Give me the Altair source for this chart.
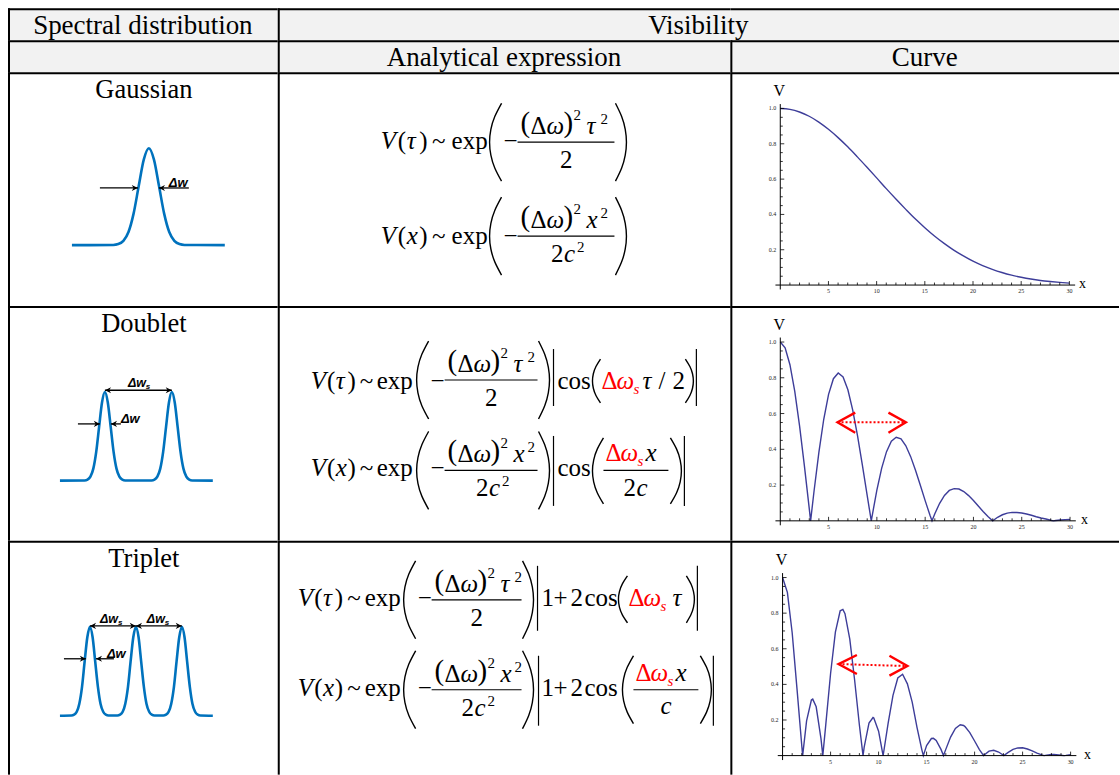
import altair as alt
import pandas as pd

SERIF = "Liberation Serif"
SANS = "Liberation Sans"
RED = "#FF0000"
CURVE_BLUE = "#3D3D99"
SPEC_BLUE = "#0072BD"
HEAD_FILL = "#F2F2F2"

# ---------------------------------------------------------------- table text
HEADER_TOP = ["Spectral distribution", "Visibility"]
HEADER_SUB = ["", "Analytical expression", "Curve"]
SPECTRUM_NAMES = ["Gaussian", "Doublet", "Triplet"]

# ---------------------------------------------------------------- visibility curves V(x)
GAUSS_X = [0, 1, 2, 3, 4, 5, 6, 7, 8, 9, 10, 11, 12, 13, 14, 15, 16, 17, 18, 19, 20,
           21, 22, 23, 24, 25, 26, 27, 28, 29, 30]
GAUSS_V = [1.000, 0.995, 0.980, 0.956, 0.923, 0.882, 0.835, 0.783, 0.726, 0.667, 0.607,
           0.546, 0.487, 0.430, 0.375, 0.325, 0.278, 0.236, 0.198, 0.165, 0.135,
           0.110, 0.089, 0.071, 0.056, 0.044, 0.034, 0.026, 0.020, 0.015, 0.011]

DOUBLET_X = [0, 0.5, 1, 1.5, 2, 2.5, 3, 3.14, 3.5, 4, 4.5, 5, 5.5, 6, 6.5, 7, 7.5, 8, 8.5, 9,
             9.42, 9.5, 10, 10.5, 11, 11.5, 12, 12.5, 13, 13.5, 14, 14.5, 15, 15.5, 15.71,
             16, 16.5, 17, 17.5, 18, 18.5, 19, 19.5, 20, 20.5, 21, 21.5, 21.99, 22.5, 23,
             23.5, 24, 24.5, 25, 25.5, 26, 26.5, 27, 27.5, 28, 28.27, 28.5, 29, 29.5, 30]
DOUBLET_V = [1.000, 0.968, 0.873, 0.724, 0.530, 0.306, 0.068, 0.0, 0.168, 0.384, 0.568,
             0.707, 0.795, 0.827, 0.805, 0.733, 0.619, 0.475, 0.311, 0.141, 0.0, 0.024,
             0.172, 0.295, 0.387, 0.445, 0.467, 0.458, 0.420, 0.359, 0.283, 0.199, 0.113,
             0.031, 0.0, 0.040, 0.098, 0.142, 0.170, 0.180, 0.178, 0.164, 0.141, 0.114,
             0.083, 0.052, 0.024, 0.0, 0.020, 0.034, 0.043, 0.047, 0.047, 0.044, 0.038,
             0.031, 0.023, 0.016, 0.010, 0.003, 0.0, 0.002, 0.005, 0.007, 0.008]

TRIPLET_X = [0, 0.5, 1, 1.5, 2, 2.09, 2.5, 3, 3.14, 3.5, 4, 4.19, 4.5, 5, 5.5, 6, 6.28, 6.5,
             7, 7.5, 8, 8.38, 8.5, 9, 9.42, 9.5, 10, 10.47, 10.5, 11, 11.5, 12, 12.5, 13,
             13.5, 14, 14.5, 14.66, 15, 15.5, 15.71, 16, 16.5, 16.76, 17, 17.5, 18, 18.5,
             18.85, 19, 19.5, 20, 20.5, 20.94, 21, 21.5, 21.99, 22.5, 23, 23.04, 23.5, 24,
             24.5, 25, 25.5, 26, 26.5, 27, 27.23, 27.5, 28, 28.27, 28.5, 29, 29.32, 29.5, 30]
TRIPLET_V = [1.000, 0.917, 0.690, 0.376, 0.055, 0.0, 0.195, 0.312, 0.317, 0.274, 0.095, 0.0,
             0.174, 0.461, 0.693, 0.813, 0.821, 0.797, 0.654, 0.426, 0.172, 0.0, 0.047,
             0.183, 0.214, 0.211, 0.137, 0.0, 0.009, 0.184, 0.338, 0.436, 0.457, 0.403,
             0.300, 0.159, 0.034, 0.0, 0.056, 0.096, 0.097, 0.085, 0.035, 0.0, 0.035,
             0.104, 0.153, 0.173, 0.169, 0.163, 0.129, 0.082, 0.034, 0.0, 0.004, 0.025,
             0.030, 0.020, 0.002, 0.0, 0.018, 0.035, 0.043, 0.044, 0.037, 0.026, 0.014,
             0.004, 0.0, 0.003, 0.006, 0.006, 0.005, 0.002, 0.0, 0.001, 0.005]

# axis ticks and tick labels of the curve panels
X_TICKS = [1, 2, 3, 4, 5, 6, 7, 8, 9, 10, 11, 12, 13, 14, 15, 16, 17, 18, 19, 20,
           21, 22, 23, 24, 25, 26, 27, 28, 29, 30]
X_LABELS = [5, 10, 15, 20, 25, 30]
Y_TICKS = [0.05, 0.1, 0.15, 0.2, 0.25, 0.3, 0.35, 0.4, 0.45, 0.5, 0.55, 0.6, 0.65, 0.7,
           0.75, 0.8, 0.85, 0.9, 0.95, 1.0]
Y_LABELS = [0.2, 0.4, 0.6, 0.8, 1.0]

# ---------------------------------------------------------------- spectral line shapes (frequency, intensity)
GAUSS_W = [6.4, 10.53, 11.04, 11.55, 12.06, 12.57, 13.08, 13.59, 14.1, 14.61, 15.12, 15.63,
           16.14, 16.65, 17.16, 17.67, 21.7]
GAUSS_I = [0, 0.002, 0.011, 0.044, 0.135, 0.325, 0.607, 0.882, 1, 0.882, 0.607, 0.325,
           0.135, 0.044, 0.011, 0.002, 0]

DOUB_W = [5.2, 7.67, 7.96, 8.25, 8.54, 8.83, 9.12, 9.41, 9.7, 9.99, 10.28, 10.57, 10.86,
          11.15, 11.44, 11.73, 14.37, 14.66, 14.95, 15.24, 15.53, 15.82, 16.11, 16.4,
          16.69, 16.98, 17.27, 17.56, 17.85, 18.14, 18.43, 20.5]
DOUB_I = [0, 0.002, 0.011, 0.044, 0.135, 0.325, 0.607, 0.882, 1, 0.882, 0.607, 0.325, 0.135,
          0.044, 0.011, 0.002, 0.002, 0.011, 0.044, 0.135, 0.325, 0.607, 0.882, 1,
          0.882, 0.607, 0.325, 0.135, 0.044, 0.011, 0.002, 0]

TRIP_W = [5.2, 6.35, 6.61, 6.88, 7.14, 7.41, 7.67, 7.94, 8.2, 8.47, 8.73, 9.0, 9.26, 9.53,
          9.79, 10.06, 10.95, 11.21, 11.48, 11.74, 12.01, 12.27, 12.54, 12.8, 13.07, 13.33,
          13.6, 13.86, 14.13, 14.39, 14.66, 15.55, 15.81, 16.08, 16.34, 16.61, 16.87,
          17.14, 17.4, 17.67, 17.93, 18.2, 18.46, 18.73, 18.99, 19.26, 20.5]
TRIP_I = [0, 0.002, 0.011, 0.044, 0.135, 0.325, 0.607, 0.882, 1, 0.882, 0.607, 0.325, 0.135,
          0.044, 0.011, 0.002, 0.002, 0.011, 0.044, 0.135, 0.325, 0.607, 0.882, 1, 0.882,
          0.607, 0.325, 0.135, 0.044, 0.011, 0.002, 0.002, 0.011, 0.044, 0.135, 0.325,
          0.607, 0.882, 1, 0.882, 0.607, 0.325, 0.135, 0.044, 0.011, 0.002, 0]

# ---------------------------------------------------------------- layout
COL_W = [270, 453, 389]
HEAD_H = 32
ROW_H = [234, 235, 234]
FORM_X0 = 277           # page x of the formula column
ROW_Y0 = [71, 305, 540]  # page y of each body row
ARROW_HEAD = "M0,0L-1,-0.5L-0.7,0L-1,0.5Z"
TICK_UP = "M0,0L0,-1"
TICK_RIGHT = "M0,0L1,0"


def borders(w, h, left=True):
    base = alt.Chart(pd.DataFrame({"k": [0]}))
    out = [base.mark_rule(color="black", strokeWidth=2, strokeCap="square").encode(
        x=alt.value(1), x2=alt.value(w - 1), y=alt.value(1))]
    if left:
        out.append(base.mark_rule(color="black", strokeWidth=2, strokeCap="square").encode(
            x=alt.value(1), y=alt.value(1), y2=alt.value(h - 1)))
    return out


def framed(layers, w, h, fill):
    return alt.layer(*layers).properties(
        width=w, height=h, view=alt.ViewBackground(fill=fill, strokeWidth=0))


def text_cell(text, w, h, fill, tx=None, left=True):
    base = alt.Chart(pd.DataFrame({"t": [text]}))
    t = base.mark_text(font=SERIF, fontSize=27, align="center", baseline="alphabetic",
                       color="black").encode(text="t:N", x=alt.value(w / 2 if tx is None else tx),
                                             y=alt.value(h - 6))
    return framed([t] + borders(w, h, left), w, h, fill)


def spectral_cell(name, h, ydom, w_list, i_list, shafts, heads, labels):
    xs = alt.Scale(domain=[0, 27], nice=False, zero=False)
    ys = alt.Scale(domain=ydom, nice=False, zero=False)

    def X(f):
        return alt.X(f, scale=xs, axis=None)

    def Y(f):
        return alt.Y(f, scale=ys, axis=None)

    prof = alt.Chart(pd.DataFrame({"w": w_list, "i": i_list})).mark_line(
        color=SPEC_BLUE, strokeWidth=2.6, interpolate="monotone").encode(x=X("w:Q"), y=Y("i:Q"))
    sh = alt.Chart(pd.DataFrame(shafts, columns=["w", "w2", "i"])).mark_rule(
        color="black", strokeWidth=1.3).encode(x=X("w:Q"), x2="w2:Q", y=Y("i:Q"))
    hd = alt.Chart(pd.DataFrame(heads, columns=["w", "i", "a"])).mark_point(
        shape=ARROW_HEAD, filled=True, size=150, color="black", opacity=1).encode(
        x=X("w:Q"), y=Y("i:Q"), angle=alt.Angle("a:Q", scale=None))
    lb = alt.Chart(pd.DataFrame(labels, columns=["t", "w", "i", "s"])).mark_text(
        font=SANS, fontWeight="bold", fontStyle="italic", align="left",
        baseline="alphabetic", color="black").encode(
        x=X("w:Q"), y=Y("i:Q"), text="t:N", size=alt.Size("s:Q", scale=None))
    ttl = alt.Chart(pd.DataFrame({"t": [name]})).mark_text(
        font=SERIF, fontSize=26.5, align="center", baseline="alphabetic", color="black").encode(
        text="t:N", x=alt.value(136), y=alt.value(26))
    return framed([prof, sh, hd, lb, ttl] + borders(270, h), 270, h, "white")


# ---------------------------------------------------------------- formula typesetting helpers
def lhs(P, x0, xe, base, var):
    L = xe - x0
    P += [("V", x0, base, 25, "i", "black"),
          ("(", x0 + 0.16 * L, base, 25, "r", "black"),
          (var, x0 + 0.245 * L, base, 25, "i", "black"),
          (")", x0 + 0.36 * L, base, 25, "r", "black"),
          ("~", x0 + 0.48 * L, base, 25, "r", "black"),
          ("exp", xe - 36, base, 25, "r", "black")]


def paren(Pa, pid, x_edge, x_mid, y_top, y_bot):
    yc = (y_top + y_bot) / 2
    hh = (y_bot - y_top) / 2
    for k, t in enumerate([-1, -0.66, -0.33, 0, 0.33, 0.66, 1]):
        Pa.append((pid, k, x_mid + (x_edge - x_mid) * t * t, yc + hh * t))


def gfrac(P, R, Pa, tag, p0, pr, axis, base, var, denom):
    P.append(("\u2212", p0 + 14, base, 25, "r", "black"))
    n0, nb = p0 + 31, axis - 8
    P += [("(", n0, nb - 2, 29, "r", "black"),
          ("Δ", n0 + 10, nb, 25, "r", "black"),
          ("ω", n0 + 26, nb, 25, "i", "black"),
          (")", n0 + 43, nb - 2, 29, "r", "black"),
          ("2", n0 + 53, nb - 14, 15, "r", "black"),
          (var, n0 + 66, nb, 25, "i", "black"),
          ("2", n0 + 80, nb - 10, 15, "r", "black")]
    R.append((p0 + 28, pr - 1, axis, axis))
    cx, db = (p0 + 28 + pr - 1) / 2, axis + 26
    if denom == "2":
        P.append(("2", cx - 6, db, 25, "r", "black"))
    else:
        P += [("2", cx - 15, db, 25, "r", "black"),
              ("c", cx - 2, db, 25, "i", "black"),
              ("2", cx + 11, db - 10, 15, "r", "black")]
    paren(Pa, tag + "L", p0 + 12, p0, axis - 39, axis + 39)
    paren(Pa, tag + "R", pr, pr + 11, axis - 39, axis + 39)


def formula_cell(h, top, P, R, Pa):
    xs = alt.Scale(domain=[0, 453], nice=False, zero=False)
    ys = alt.Scale(domain=[0, h], reverse=True, nice=False, zero=False)
    dP = pd.DataFrame(P, columns=["t", "x", "y", "s", "st", "c"])
    dP["x"] = dP["x"] - FORM_X0
    dP["y"] = dP["y"] - top
    dR = pd.DataFrame(R, columns=["x", "x2", "y", "y2"])
    dR[["x", "x2"]] = dR[["x", "x2"]] - FORM_X0
    dR[["y", "y2"]] = dR[["y", "y2"]] - top
    dA = pd.DataFrame(Pa, columns=["id", "o", "x", "y"])
    dA["x"] = dA["x"] - FORM_X0
    dA["y"] = dA["y"] - top

    def enc_text(d, style):
        kw = dict(font=SERIF, align="left", baseline="alphabetic")
        if style == "i":
            kw["fontStyle"] = "italic"
        return alt.Chart(d).mark_text(**kw).encode(
            x=alt.X("x:Q", scale=xs, axis=None), y=alt.Y("y:Q", scale=ys, axis=None),
            text="t:N", size=alt.Size("s:Q", scale=None), color=alt.Color("c:N", scale=None))

    roman = enc_text(dP[dP["st"] == "r"], "r")
    italic = enc_text(dP[dP["st"] == "i"], "i")
    rules = alt.Chart(dR).mark_rule(color="black", strokeWidth=1.2).encode(
        x=alt.X("x:Q", scale=xs, axis=None), x2="x2:Q",
        y=alt.Y("y:Q", scale=ys, axis=None), y2="y2:Q")
    parens = alt.Chart(dA).mark_line(color="black", strokeWidth=1.4, interpolate="natural").encode(
        x=alt.X("x:Q", scale=xs, axis=None), y=alt.Y("y:Q", scale=ys, axis=None),
        detail="id:N", order="o:Q")
    return framed([roman, italic, rules, parens] + borders(453, h), 453, h, "white")


def curve_cell(h, xdom, vdom, x0px, v0px, cx, cv, interp, chev, dotted, xlab_x):
    W = 389
    xs = alt.Scale(domain=xdom, nice=False, zero=False)
    ys = alt.Scale(domain=vdom, nice=False, zero=False)

    def X(f):
        return alt.X(f, scale=xs, axis=None)

    def Y(f):
        return alt.Y(f, scale=ys, axis=None)

    line = alt.Chart(pd.DataFrame({"x": cx, "v": cv})).mark_line(
        color=CURVE_BLUE, strokeWidth=1.4, interpolate=interp).encode(x=X("x:Q"), y=Y("v:Q"))
    axl = alt.Chart(pd.DataFrame({"x": [-0.5, 0], "x2": [30.6, 0],
                                  "v": [0, -0.025], "v2": [0, 1.025]})).mark_rule(
        color="black", strokeWidth=1).encode(x=X("x:Q"), x2="x2:Q", y=Y("v:Q"), y2="v2:Q")
    # tick marks (inward, Mathematica style) and tick labels
    xt = pd.DataFrame({"x": X_TICKS, "v": 0.0})
    xt["s"] = [64 if t in X_LABELS else 25 for t in X_TICKS]
    yt = pd.DataFrame({"x": 0.0, "v": Y_TICKS})
    yt["s"] = [64 if any(abs(t - l) < 1e-6 for l in Y_LABELS) else 25 for t in Y_TICKS]
    xtk = alt.Chart(xt).mark_point(shape=TICK_UP, filled=False, color="black", strokeWidth=0.8,
                                   opacity=1).encode(x=X("x:Q"), y=Y("v:Q"),
                                                     size=alt.Size("s:Q", scale=None))
    ytk = alt.Chart(yt).mark_point(shape=TICK_RIGHT, filled=False, color="black", strokeWidth=0.8,
                                   opacity=1).encode(x=X("x:Q"), y=Y("v:Q"),
                                                     size=alt.Size("s:Q", scale=None))
    xlb = alt.Chart(pd.DataFrame({"x": X_LABELS, "v": 0.0})).mark_text(
        font=SERIF, fontSize=6, baseline="top", align="center", dy=3, color="#222").encode(
        x=X("x:Q"), y=Y("v:Q"), text=alt.Text("x:Q", format="d"))
    ylb = alt.Chart(pd.DataFrame({"x": 0.0, "v": Y_LABELS})).mark_text(
        font=SERIF, fontSize=6, baseline="middle", align="right", dx=-4, color="#222").encode(
        x=X("x:Q"), y=Y("v:Q"), text=alt.Text("v:Q", format=".1f"))
    layers = [line, axl, xtk, ytk, xlb, ylb]
    if chev is not None:
        ch = alt.Chart(pd.DataFrame(chev, columns=["id", "o", "x", "v"])).mark_line(
            color=RED, strokeWidth=2.4, strokeJoin="miter").encode(
            x=X("x:Q"), y=Y("v:Q"), detail="id:N", order="o:Q")
        dt = alt.Chart(pd.DataFrame([dotted], columns=["x", "x2", "v", "v2"])).mark_rule(
            color=RED, strokeWidth=2, strokeDash=[2, 2]).encode(
            x=X("x:Q"), x2="x2:Q", y=Y("v:Q"), y2="v2:Q")
        layers += [dt, ch]
    tv = alt.Chart(pd.DataFrame({"t": ["V"]})).mark_text(
        font=SERIF, fontSize=16, align="center", baseline="alphabetic", color="black").encode(
        text="t:N", x=alt.value(x0px - 1), y=alt.value(24))
    tx = alt.Chart(pd.DataFrame({"t": ["x"]})).mark_text(
        font=SERIF, fontSize=14, align="left", baseline="alphabetic", color="black").encode(
        text="t:N", x=alt.value(xlab_x), y=alt.value(v0px + 3))
    layers += [tv, tx]
    return framed(layers + borders(W, h), W, h, "white")


# ---------------------------------------------------------------- formulas (page coordinates)
# Gaussian
P0, R0, A0 = [], [], []
lhs(P0, 380, 487, 148, "τ")
gfrac(P0, R0, A0, "g1", 489, 615, 141, 148, "τ", "2")
lhs(P0, 380, 487, 243, "x")
gfrac(P0, R0, A0, "g2", 489, 615, 235, 243, "x", "2c2")

# Doublet
P1, R1, A1 = [], [], []
lhs(P1, 310, 412, 388, "τ")
gfrac(P1, R1, A1, "d1", 416, 538, 379, 388, "τ", "2")
R1 += [(553, 553, 348, 405), (696, 696, 348, 405)]
P1 += [("cos", 557, 388, 25, "r", "black"),
       ("Δ", 601, 388, 25, "r", RED), ("ω", 616, 388, 25, "i", RED),
       ("s", 633, 393, 15, "i", RED),
       ("τ", 642, 388, 25, "i", "black"), ("/", 658, 388, 25, "r", "black"),
       ("2", 672, 388, 25, "r", "black")]
paren(A1, "d1a", 600, 592, 358, 402)
paren(A1, "d1b", 685, 693, 358, 402)
lhs(P1, 310, 412, 475, "x")
gfrac(P1, R1, A1, "d2", 416, 538, 469.5, 475, "x", "2c2")
R1 += [(553, 553, 435, 505), (684, 684, 435, 505), (603, 668, 469.5, 469.5)]
P1 += [("cos", 557, 475, 25, "r", "black"),
       ("Δ", 605, 460, 25, "r", RED), ("ω", 620, 460, 25, "i", RED),
       ("s", 637, 465, 15, "i", RED), ("x", 645, 460, 25, "i", "black"),
       ("2", 623, 495, 25, "r", "black"), ("c", 636, 495, 25, "i", "black")]
paren(A1, "d2a", 603, 592, 437, 503)
paren(A1, "d2b", 670, 681, 437, 503)

# Triplet
P2, R2, A2 = [], [], []
lhs(P2, 297, 400, 605, "τ")
gfrac(P2, R2, A2, "t1", 403, 522, 599, 605, "τ", "2")
R2 += [(537, 537, 565, 630), (697, 697, 565, 630)]
P2 += [("1", 541, 605, 25, "r", "black"), ("+", 553, 605, 25, "r", "black"),
       ("2", 570, 605, 25, "r", "black"), ("cos", 584, 605, 25, "r", "black"),
       ("Δ", 628, 605, 25, "r", RED), ("ω", 643, 605, 25, "i", RED),
       ("s", 660, 610, 15, "i", RED), ("τ", 672, 605, 25, "i", "black")]
paren(A2, "t1a", 627, 618, 575, 622)
paren(A2, "t1b", 686, 694, 575, 622)
lhs(P2, 297, 400, 695, "x")
gfrac(P2, R2, A2, "t2", 403, 522, 689, 695, "x", "2c2")
R2 += [(538, 538, 655, 725), (713, 713, 655, 725), (633, 698, 689, 689)]
P2 += [("1", 541, 695, 25, "r", "black"), ("+", 553, 695, 25, "r", "black"),
       ("2", 570, 695, 25, "r", "black"), ("cos", 584, 695, 25, "r", "black"),
       ("Δ", 635, 680, 25, "r", RED), ("ω", 650, 680, 25, "i", RED),
       ("s", 667, 685, 15, "i", RED), ("x", 675, 680, 25, "i", "black"),
       ("c", 660, 713, 25, "i", "black")]
paren(A2, "t2a", 633, 622, 655, 723)
paren(A2, "t2b", 700, 711, 655, 723)

# ---------------------------------------------------------------- cells
spec_g = spectral_cell(SPECTRUM_NAMES[0], ROW_H[0], [-0.629, 1.784], GAUSS_W, GAUSS_I,
                       [(9.2, 13.0, 0.59), (15.1, 18.1, 0.59)],
                       [(13.0, 0.59, 0), (15.1, 0.59, 180)],
                       [("Δw", 16.1, 0.605, 13)])
spec_d = spectral_cell(SPECTRUM_NAMES[1], ROW_H[1], [-0.680, 1.970], DOUB_W, DOUB_I,
                       [(9.7, 16.4, 1.02), (7.0, 9.2, 0.64), (10.3, 11.3, 0.64)],
                       [(9.7, 1.02, 180), (16.4, 1.02, 0), (9.2, 0.64, 0), (10.3, 0.64, 180)],
                       [("Δw", 12.0, 1.056, 12.5), ("s", 13.8, 1.035, 8),
                        ("Δw", 11.3, 0.645, 13)])
spec_t = spectral_cell(SPECTRUM_NAMES[2], ROW_H[2], [-0.663, 1.966], TRIP_W, TRIP_I,
                       [(8.2, 12.8, 1.01), (12.8, 17.4, 1.01), (5.6, 7.8, 0.64), (8.8, 10.6, 0.64)],
                       [(8.2, 1.01, 180), (12.8, 1.01, 0), (12.8, 1.01, 180), (17.4, 1.01, 0),
                        (7.8, 0.64, 0), (8.8, 0.64, 180)],
                       [("Δw", 9.2, 1.045, 12.5), ("s", 11.0, 1.025, 8),
                        ("Δw", 13.9, 1.045, 12.5), ("s", 15.7, 1.025, 8),
                        ("Δw", 9.9, 0.645, 13)])

form_g = formula_cell(ROW_H[0], ROW_Y0[0], P0, R0, A0)
form_d = formula_cell(ROW_H[1], ROW_Y0[1], P1, R1, A1)
form_t = formula_cell(ROW_H[2], ROW_Y0[2], P2, R2, A2)

chev_d = [("l", 0, 7.76, 0.605), ("l", 1, 5.93, 0.551), ("l", 2, 7.76, 0.493),
          ("r", 0, 11.2, 0.605), ("r", 1, 13.0, 0.551), ("r", 2, 11.2, 0.493)]
chev_t = [("l", 0, 7.74, 0.565), ("l", 1, 5.83, 0.514), ("l", 2, 7.74, 0.458),
          ("r", 0, 11.13, 0.561), ("r", 1, 13.0, 0.503), ("r", 2, 11.13, 0.449)]

curve_g = curve_cell(ROW_H[0], [-5.18, 35.15], [-0.119, 1.205], 50, 213,
                     GAUSS_X, GAUSS_V, "monotone", None, None, 349)
curve_d = curve_cell(ROW_H[1], [-5.17, 35.07], [-0.112, 1.201], 50, 215,
                     DOUBLET_X, DOUBLET_V, "linear", chev_d, (5.93, 13.0, 0.551, 0.551), 351)
curve_t = curve_cell(ROW_H[2], [-5.44, 35.04], [-0.107, 1.206], 52.3, 215,
                     TRIPLET_X, TRIPLET_V, "linear", chev_t, (5.83, 13.0, 0.514, 0.503), 354)

# header row 1: "Visibility" spans the two right-hand columns; it is drawn from the last
# cell (which has no left border) so that it sits centred over both columns.
vis_center = (COL_W[1] + COL_W[2]) / 2 - COL_W[1]
cells = [
    text_cell(HEADER_TOP[0], COL_W[0], HEAD_H, HEAD_FILL),
    text_cell("", COL_W[1], HEAD_H, HEAD_FILL),
    text_cell(HEADER_TOP[1], COL_W[2], HEAD_H, HEAD_FILL, tx=vis_center, left=False),
    text_cell(HEADER_SUB[0], COL_W[0], HEAD_H, HEAD_FILL),
    text_cell(HEADER_SUB[1], COL_W[1], HEAD_H, HEAD_FILL),
    text_cell(HEADER_SUB[2], COL_W[2], HEAD_H, HEAD_FILL),
    spec_g, form_g, curve_g,
    spec_d, form_d, curve_d,
    spec_t, form_t, curve_t,
]

chart = alt.concat(*cells, columns=3, spacing=0, bounds="flush", align="each").properties(
    padding={"left": 7, "top": 7, "right": 0, "bottom": 0}, background="white"
).configure_view(strokeWidth=0)

chart.save("out.html", embed_options={"renderer": "svg", "actions": False})
